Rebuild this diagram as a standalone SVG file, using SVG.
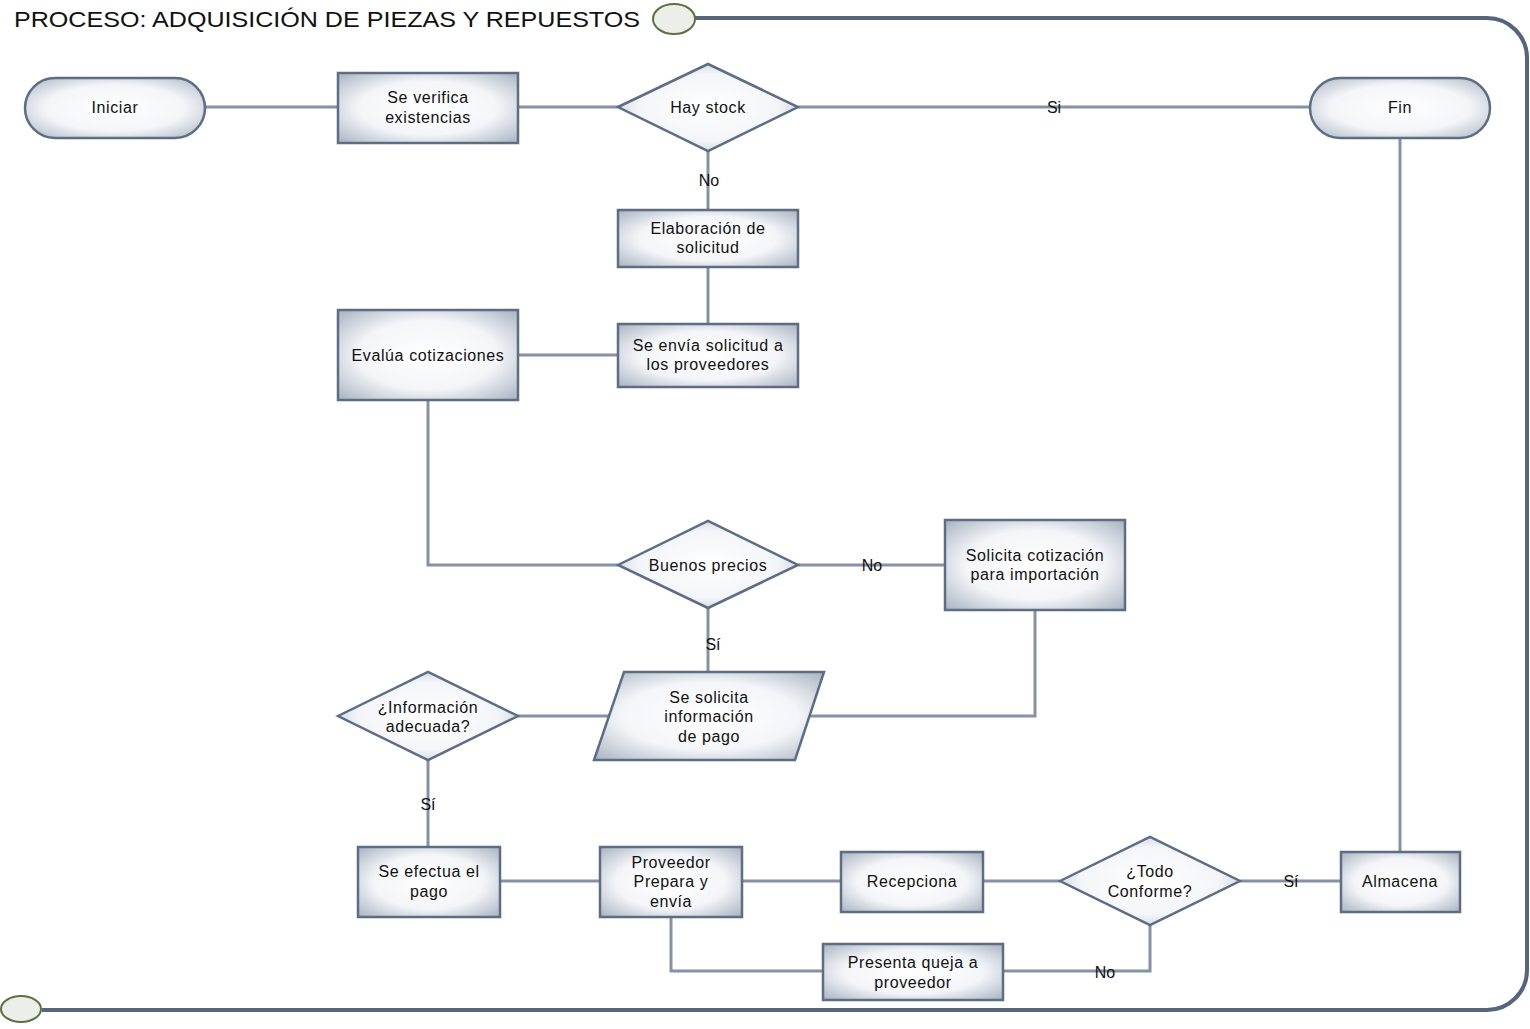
<svg xmlns="http://www.w3.org/2000/svg" width="1530" height="1029" viewBox="0 0 1530 1029">
<defs>
<radialGradient id="g" cx="50%" cy="50%" r="70%">
<stop offset="0" stop-color="#ffffff"/>
<stop offset="0.55" stop-color="#f3f5f8"/>
<stop offset="1" stop-color="#a9b3c1"/>
</radialGradient>
<style>
.n{fill:url(#g);stroke:#5d6d84;stroke-width:2.5}
.t{font-family:"Liberation Sans",Arial,sans-serif;font-size:16px;fill:#111;text-anchor:middle;letter-spacing:0.6px}
.c{fill:none;stroke:#8592a6;stroke-width:3}
.l{font-family:"Liberation Sans",Arial,sans-serif;font-size:16px;fill:#111;text-anchor:middle}
.fr{fill:none;stroke:#55657e;stroke-width:4}
.ci{fill:#eceee9;stroke:#5b7142;stroke-width:2}
</style>
</defs>
<rect width="1530" height="1029" fill="#fff"/>
<g id="frame">
<path class="fr" d="M695 18 H1487 A40 40 0 0 1 1527 58 V970 A40 40 0 0 1 1487 1010 H42"/>
<ellipse class="ci" cx="674" cy="19" rx="21" ry="15"/>
<ellipse class="ci" cx="21" cy="1009" rx="20" ry="13"/>
<text x="14" y="27" font-family="Liberation Sans,Arial,sans-serif" font-size="22" fill="#111" textLength="626" lengthAdjust="spacingAndGlyphs">PROCESO: ADQUISICIÓN DE PIEZAS Y REPUESTOS</text>
</g>
<g id="connectors">
<path class="c" d="M205 107 H338"/>
<path class="c" d="M518 107 H618"/>
<path class="c" d="M798 107 H1310"/>
<path class="c" d="M708 151 V210"/>
<path class="c" d="M708 267 V324"/>
<path class="c" d="M618 355 H518"/>
<path class="c" d="M428 400 V565 H618"/>
<path class="c" d="M798 565 H945"/>
<path class="c" d="M708 608 V672"/>
<path class="c" d="M1035 610 V716 H809"/>
<path class="c" d="M609 716 H518"/>
<path class="c" d="M428 760 V847"/>
<path class="c" d="M500 881 H600"/>
<path class="c" d="M742 881 H841"/>
<path class="c" d="M983 881 H1060"/>
<path class="c" d="M1240 881 H1341"/>
<path class="c" d="M1400 852 V138"/>
<path class="c" d="M1150 925 V971 H1003"/>
<path class="c" d="M823 971 H671 V917"/>
<text class="l" x="1054" y="113">Si</text>
<text class="l" x="709" y="186">No</text>
<text class="l" x="872" y="571">No</text>
<text class="l" x="713" y="650">Sí</text>
<text class="l" x="428" y="810">Sí</text>
<text class="l" x="1291" y="887">Sí</text>
<text class="l" x="1105" y="978">No</text>
</g>
<g id="iniciar"><rect class="n" x="25" y="78" width="180" height="60" rx="30"/><text class="t" x="115" y="113">Iniciar</text></g>
<g id="verifica"><rect class="n" x="338" y="73" width="180" height="70"/><text class="t" x="428" y="103">Se verifica</text><text class="t" x="428" y="123">existencias</text></g>
<g id="haystock"><polygon class="n" points="618,107 708,64 798,107 708,151"/><text class="t" x="708" y="113">Hay stock</text></g>
<g id="fin"><rect class="n" x="1310" y="78" width="180" height="60" rx="30"/><text class="t" x="1400" y="113">Fin</text></g>
<g id="elaboracion"><rect class="n" x="618" y="210" width="180" height="57"/><text class="t" x="708" y="234">Elaboración de</text><text class="t" x="708" y="253">solicitud</text></g>
<g id="envia"><rect class="n" x="618" y="324" width="180" height="63"/><text class="t" x="708" y="351">Se envía solicitud a</text><text class="t" x="708" y="370">los proveedores</text></g>
<g id="evalua"><rect class="n" x="338" y="310" width="180" height="90"/><text class="t" x="428" y="361">Evalúa cotizaciones</text></g>
<g id="buenos"><polygon class="n" points="618,565 708,521 798,565 708,608"/><text class="t" x="708" y="571">Buenos precios</text></g>
<g id="importacion"><rect class="n" x="945" y="520" width="180" height="90"/><text class="t" x="1035" y="561">Solicita cotización</text><text class="t" x="1035" y="580">para importación</text></g>
<g id="pago_info"><polygon class="n" points="624,672 824,672 795,760 594,760"/><text class="t" x="709" y="703">Se solicita</text><text class="t" x="709" y="722">información</text><text class="t" x="709" y="742">de pago</text></g>
<g id="info"><polygon class="n" points="338,716 428,672 518,716 428,760"/><text class="t" x="428" y="713">¿Información</text><text class="t" x="428" y="732">adecuada?</text></g>
<g id="efectua"><rect class="n" x="358" y="847" width="142" height="70"/><text class="t" x="429" y="877">Se efectua el</text><text class="t" x="429" y="897">pago</text></g>
<g id="proveedor"><rect class="n" x="600" y="847" width="142" height="70"/><text class="t" x="671" y="868">Proveedor</text><text class="t" x="671" y="887">Prepara y</text><text class="t" x="671" y="907">envía</text></g>
<g id="recepciona"><rect class="n" x="841" y="852" width="142" height="60"/><text class="t" x="912" y="887">Recepciona</text></g>
<g id="conforme"><polygon class="n" points="1060,881 1150,837 1240,881 1150,925"/><text class="t" x="1150" y="877">¿Todo</text><text class="t" x="1150" y="897">Conforme?</text></g>
<g id="almacena"><rect class="n" x="1341" y="852" width="119" height="60"/><text class="t" x="1400" y="887">Almacena</text></g>
<g id="queja"><rect class="n" x="823" y="944" width="180" height="56"/><text class="t" x="913" y="968">Presenta queja a</text><text class="t" x="913" y="988">proveedor</text></g>
</svg>
